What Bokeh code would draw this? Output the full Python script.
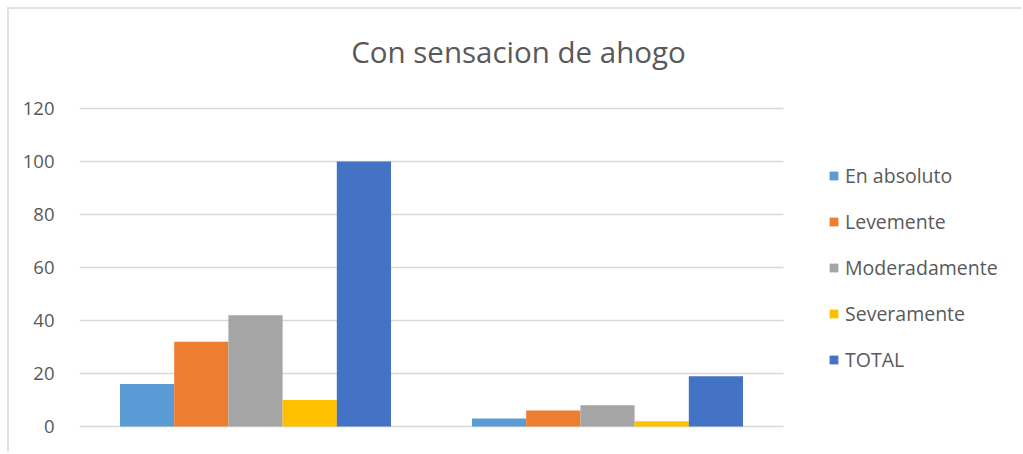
from bokeh.plotting import figure
from bokeh.models import (ColumnDataSource, Range1d, FixedTicker,
                          Legend, LegendItem, Label)
from bokeh.embed import file_html
from bokeh.resources import INLINE

# Data
groups = ["Grupo 1", "Grupo 2"]
series = ["En absoluto", "Levemente", "Moderadamente", "Severamente", "TOTAL"]
en_absoluto = [16, 3]
levemente = [32, 6]
moderadamente = [42, 8]
severamente = [10, 2]
total = [100, 19]
y_ticks = [0, 20, 40, 60, 80, 100, 120]

colors = ["#5B9BD5", "#ED7D31", "#A5A5A5", "#FFC000", "#4472C4"]
values = [en_absoluto, levemente, moderadamente, severamente, total]

TEXT = "#595959"
FONT = "Open Sans"

# The frame covers the whole canvas to the right of the y axis, so the legend
# and title (drawn inside it) are never clipped; the category band spans
# x = -0.5 .. len(groups) - 0.5.
x0 = -0.5
x_end = x0 + 944 / 352
y_start = -28 / 2.65
y_end = 417 / 2.65

p = figure(width=1014, height=445, output_backend="svg", toolbar_location=None,
           x_range=Range1d(x0, x_end), y_range=Range1d(y_start, y_end),
           min_border_left=70, min_border_right=0,
           min_border_top=0, min_border_bottom=0,
           background_fill_color="white", border_fill_color="white")
p.styles = {"margin-left": "7px", "margin-top": "7px",
            "border-left": "2px solid #e2e2e2", "border-top": "2px solid #e2e2e2"}
p.outline_line_color = None

# horizontal gridlines across the category band only
p.segment(x0=[x0] * len(y_ticks), x1=[x0 + len(groups)] * len(y_ticks),
          y0=y_ticks, y1=y_ticks, line_color="#d9d9d9", line_width=1.5)

bw = 0.154
xs = list(range(len(groups)))
items = []
for i, (name, c, vals) in enumerate(zip(series, colors, values)):
    src = ColumnDataSource(dict(x=[x + (i - 2) * bw for x in xs], top=vals))
    r = p.vbar(x="x", top="top", width=bw, source=src,
               fill_color=c, line_color=None)
    items.append(LegendItem(label=name, renderers=[r]))

# axes
p.xaxis.visible = False
p.xgrid.grid_line_color = None
p.ygrid.grid_line_color = None
p.yaxis.ticker = FixedTicker(ticks=y_ticks)
p.yaxis.axis_line_color = None
p.yaxis.major_tick_line_color = None
p.yaxis.minor_tick_line_color = None
p.yaxis.major_label_text_font = FONT
p.yaxis.major_label_text_font_size = "18.5px"
p.yaxis.major_label_text_color = TEXT
p.yaxis.major_label_standoff = 19

legend = Legend(items=items, location=(749, 81), orientation="vertical",
                glyph_width=11, glyph_height=11, label_standoff=6,
                label_height=20, spacing=19, padding=0, margin=0,
                border_line_color=None, background_fill_alpha=0,
                label_text_font=FONT, label_text_font_size="19.5px",
                label_text_color=TEXT)
p.add_layout(legend)

title = Label(x=439, y=403, x_units="screen", y_units="screen",
              text="Con sensacion de ahogo", text_align="center",
              text_baseline="alphabetic", text_font=FONT,
              text_font_size="29.5px", text_color=TEXT)
p.add_layout(title)

open("out.html", "w").write(file_html(p, INLINE))
